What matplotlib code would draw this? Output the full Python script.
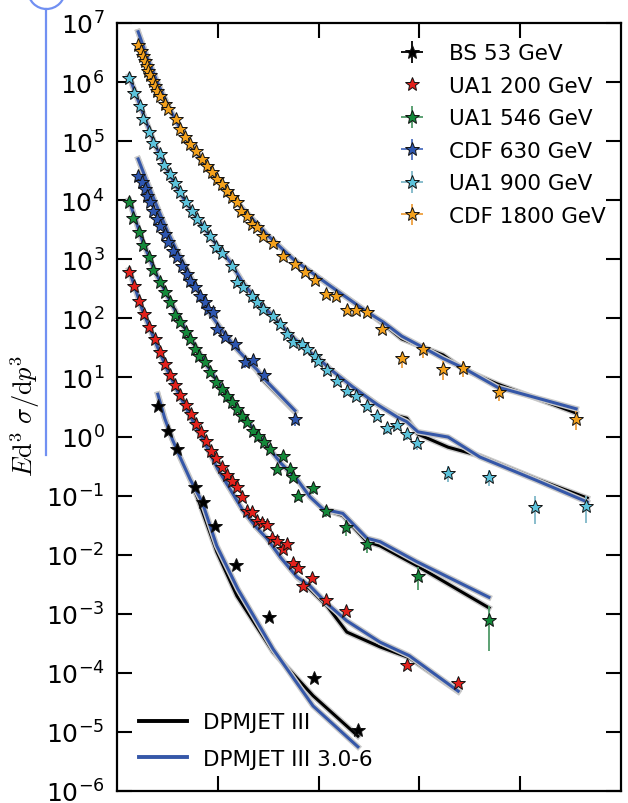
import numpy as np
import matplotlib
matplotlib.use('Agg')
import matplotlib.pyplot as plt
import matplotlib.patheffects as pe
from matplotlib.patches import Ellipse
from matplotlib.lines import Line2D
from matplotlib.ticker import LogLocator, NullLocator

plt.rcParams['font.family'] = ['DejaVu Sans']
plt.rcParams['mathtext.fontset'] = 'cm'

# ---------------- data (pT in GeV, invariant cross section) ----------------
bs53_pt = [0.81, 1.01, 1.19, 1.55, 1.71, 1.94, 2.36, 3.02, 3.91, 4.78]
bs53_val = [3.3, 1.23, 0.62, 0.141, 0.078, 0.031, 6.8e-3, 8.9e-4, 8.1e-5, 1.07e-5]
bs53_err = [0.0] * 10

ua1200_pt = [0.24, 0.34, 0.44, 0.54, 0.64, 0.75, 0.85, 0.95, 1.05, 1.15,
             1.25, 1.37, 1.47, 1.57, 1.67, 1.77, 1.87, 1.96, 2.08, 2.18,
             2.28, 2.38, 2.48, 2.58, 2.68, 2.78, 2.88, 2.98, 3.08, 3.17,
             3.29, 3.37, 3.49, 3.59, 3.69, 3.87, 4.15, 4.54, 5.75, 6.77]
ua1200_val = [620, 355, 195, 117, 71, 45, 27, 17, 11, 7.4,
              5.0, 3.4, 2.4, 1.62, 1.2, 0.83, 0.575, 0.44, 0.30, 0.224,
              0.174, 0.141, 0.095, 0.055, 0.052, 0.037, 0.035, 0.032, 0.019, 0.017,
              0.0126, 0.0151, 7.2e-3, 6.0e-3, 2.95e-3, 4.1e-3, 1.7e-3, 1.12e-3, 1.35e-4, 6.8e-5]

ua1546_pt = [0.24, 0.32, 0.44, 0.52, 0.64, 0.71, 0.85, 0.95, 1.05, 1.15,
             1.25, 1.37, 1.45, 1.55, 1.63, 1.75, 1.85, 1.96, 2.08, 2.18,
             2.28, 2.38, 2.48, 2.58, 2.70, 2.80, 2.92, 3.04, 3.17, 3.29,
             3.43, 3.49, 3.59, 3.89, 4.15, 4.54, 4.96, 5.97, 7.38]
ua1546_val = [9.3e3, 5.0e3, 2.9e3, 1.74e3, 1.1e3, 660, 420, 280, 190, 115,
              87, 59, 45, 30, 23, 18, 12.3, 8.3, 6.5, 4.9,
              3.9, 2.95, 2.24, 1.78, 1.23, 1.02, 0.81, 0.62, 0.28, 0.47,
              0.28, 0.21, 0.10, 0.135, 0.055, 0.030, 0.015, 4.4e-3, 7.9e-4]
ua1546_err = [0.0] * 28 + [0.15, 0.10, 0.15, 0.15, 0.20, 0.20, 0.20, 0.30, 0.30, 0.42, 0.70]

cdf630_pt = [0.42, 0.50, 0.56, 0.60, 0.65, 0.72, 0.79, 0.85, 0.95, 1.01,
             1.11, 1.19, 1.29, 1.39, 1.45, 1.55, 1.65, 1.75, 1.81, 1.90,
             1.98, 2.14, 2.34, 2.54, 2.70, 2.92, 3.53]
cdf630_val = [2.57e4, 2.04e4, 1.55e4, 1.17e4, 9.3e3, 6.6e3, 4.8e3, 3.6e3, 2.7e3, 1.95e3,
              1.38e3, 1.1e3, 780, 560, 430, 340, 240, 190, 145, 129,
              66, 49, 37, 18, 20, 11, 2.0]
cdf630_err = [0.0] * 20 + [0.15, 0.15, 0.15, 0.20, 0.20, 0.20, 0.25]

ua1900_pt = [0.24, 0.34, 0.46, 0.52, 0.64, 0.72, 0.85, 0.93, 1.05, 1.15,
             1.25, 1.37, 1.49, 1.59, 1.73, 1.85, 1.96, 2.08, 2.28, 2.38,
             2.50, 2.68, 2.78, 2.90, 3.10, 3.23, 3.37, 3.49, 3.67, 3.77,
             3.93, 3.99, 4.17, 4.37, 4.56, 4.74, 4.96, 5.16, 5.36, 5.56,
             5.75, 5.95, 6.57, 7.38, 8.29, 9.31]
ua1900_val = [1.15e6, 6.6e5, 4.0e5, 2.4e5, 1.45e5, 9.3e4, 6.0e4, 4.0e4, 2.75e4, 1.95e4,
              1.38e4, 9.3e3, 6.6e3, 4.8e3, 3.5e3, 2.5e3, 1.6e3, 1.3e3, 780, 420,
              340, 240, 190, 145, 110, 81, 55, 40, 37, 30,
              23, 19, 13.5, 8.7, 5.9, 4.9, 3.3, 2.2, 1.38, 1.58,
              1.1, 0.78, 0.24, 0.21, 0.065, 0.066]
ua1900_err = [0.0] * 36 + [0.10, 0.15, 0.20, 0.15, 0.20, 0.25, 0.30, 0.30, 0.50, 0.48]

cdf1800_pt = [0.42, 0.47, 0.51, 0.55, 0.59, 0.62, 0.65, 0.71, 0.75, 0.80,
              0.85, 0.95, 1.02, 1.17, 1.25, 1.35, 1.45, 1.57, 1.68, 1.78,
              1.88, 1.98, 2.08, 2.18, 2.28, 2.38, 2.47, 2.57, 2.67, 2.77,
              2.90, 3.10, 3.30, 3.53, 3.73, 3.93, 4.15, 4.35, 4.56, 4.74,
              4.96, 5.26, 5.65, 6.07, 6.47, 6.87, 7.58, 9.11]
cdf1800_val = [4.3e6, 3.4e6, 2.8e6, 2.3e6, 1.9e6, 1.55e6, 1.3e6, 1.05e6, 8.7e5, 7.1e5,
               5.9e5, 4.3e5, 3.5e5, 2.4e5, 1.6e5, 1.17e5, 8.9e4, 6.9e4, 5.0e4, 3.8e4,
               2.95e4, 2.3e4, 1.86e4, 1.45e4, 1.12e4, 9.3e3, 6.6e3, 5.5e3, 4.0e3, 3.5e3,
               2.5e3, 1.9e3, 1.15e3, 830, 620, 450, 260, 240, 140, 140,
               130, 66, 21, 30, 14, 14.5, 5.6, 2.0]
cdf1800_err = [0.0] * 41 + [0.10, 0.30, 0.30, 0.35, 0.30, 0.30, 0.35]

# ---------------- model curves ----------------
bs53_mx_k = [0.81, 0.95, 1.10, 1.25, 1.45, 1.61, 1.98, 2.38, 3.10, 3.89, 4.78]
bs53_my_k = [5.2, 2.0, 0.89, 0.45, 0.19, 0.087, 0.0112, 2.0e-3, 2.24e-4, 4.1e-5, 8.5e-6]
bs53_mx_b = [0.81, 0.95, 1.10, 1.25, 1.45, 1.69, 1.98, 2.40, 3.10, 3.89, 4.78]
bs53_my_b = [5.2, 2.0, 0.89, 0.45, 0.19, 0.078, 0.0141, 2.6e-3, 2.5e-4, 2.75e-5, 5.6e-6]

ua1200_mx = [0.24, 0.5, 0.75, 1.0, 1.25, 1.5, 1.75, 2.0, 2.25, 2.5,
             2.75, 2.98, 3.25, 3.57, 3.83, 4.17, 4.56, 5.22, 5.80, 6.77]
ua1200_my_k = [660, 141, 42, 13.2, 4.8, 1.86, 0.76, 0.28, 0.126, 0.056,
               0.030, 0.0186, 8.9e-3, 4.2e-3, 2.6e-3, 1.35e-3, 4.9e-4, 2.75e-4, 1.8e-4, 4.8e-5]
ua1200_my_b = [660, 141, 42, 13.2, 4.8, 1.86, 0.76, 0.28, 0.126, 0.056,
               0.030, 0.0186, 8.9e-3, 4.2e-3, 2.95e-3, 1.48e-3, 7.6e-4, 3.3e-4, 1.95e-4, 4.9e-5]

ua1546_mx = [0.24, 0.5, 0.75, 1.0, 1.25, 1.5, 1.75, 2.0, 2.25, 2.5, 2.75,
             3.0, 3.25, 3.57, 3.83, 4.09, 4.48, 4.96, 5.22, 5.95, 7.38]
ua1546_my_k = [1.0e4, 2.1e3, 630, 240, 95, 40, 17.8, 8.3, 4.4, 2.3, 1.2,
               0.66, 0.355, 0.19, 0.095, 0.059, 0.046, 0.0166, 0.0141, 6.5e-3, 1.26e-3]
ua1546_my_b = [1.0e4, 2.1e3, 630, 240, 95, 40, 17.8, 8.3, 4.4, 2.3, 1.2,
               0.66, 0.355, 0.19, 0.095, 0.059, 0.050, 0.019, 0.0166, 7.6e-3, 1.9e-3]

cdf630_mx = [0.42, 0.6, 0.8, 1.0, 1.2, 1.4, 1.6, 1.85, 2.1, 2.38, 2.6, 2.78, 2.92, 3.53]
cdf630_my_k = [5.0e4, 2.0e4, 7.6e3, 3.0e3, 1.32e3, 630, 300, 120, 60, 30, 19, 12.9, 8.7, 2.6]
cdf630_my_b = [5.0e4, 2.0e4, 7.6e3, 3.0e3, 1.32e3, 630, 300, 120, 60, 30, 19, 13.5, 9.5, 2.75]

ua1900_mx = [0.24, 0.5, 0.75, 1.0, 1.25, 1.5, 1.75, 2.0, 2.25, 2.5, 2.75, 3.0, 3.25,
             3.5, 3.75, 4.0, 4.23, 4.68, 5.16, 5.56, 5.75, 5.97, 6.57, 7.20, 8.33, 9.33]
ua1900_my_k = [1.26e6, 3.2e5, 8.9e4, 3.2e4, 1.32e4, 6.3e3, 3.2e3, 1.66e3, 890, 400, 214, 132, 79,
               47, 30, 21, 13.8, 6.9, 3.5, 2.24, 2.04, 1.1, 0.66, 0.47, 0.19, 0.091]
ua1900_my_b = [1.26e6, 3.2e5, 8.9e4, 3.2e4, 1.32e4, 6.3e3, 3.2e3, 1.66e3, 890, 400, 214, 132, 79,
               47, 30, 21, 13.8, 6.9, 3.5, 2.14, 1.78, 1.2, 0.98, 0.45, 0.18, 0.078]

cdf1800_mx = [0.42, 0.6, 0.8, 1.0, 1.25, 1.5, 1.75, 2.0, 2.5, 3.0,
              3.5, 4.23, 4.96, 5.28, 5.65, 6.05, 6.47, 6.87, 7.54, 9.11]
cdf1800_my_k = [7.1e6, 2.6e6, 1.0e6, 4.2e5, 1.66e5, 7.9e4, 4.0e4, 2.24e4, 7.1e3, 2.5e3,
                1.0e3, 355, 129, 81, 45, 33, 24, 13.8, 7.8, 2.5]
cdf1800_my_b = [7.1e6, 2.6e6, 1.0e6, 4.2e5, 1.66e5, 7.9e4, 4.0e4, 2.24e4, 7.1e3, 2.5e3,
                1.0e3, 355, 129, 87, 50, 33, 21, 14.5, 6.9, 2.95]

labels = ['BS 53 GeV', 'UA1 200 GeV', 'UA1 546 GeV', 'CDF 630 GeV', 'UA1 900 GeV', 'CDF 1800 GeV']
model_labels = ['DPMJET III', 'DPMJET III 3.0-6']

# ---------------- styling ----------------
colors = ['#000000', '#e3211c', '#14893a', '#2d56b0', '#5cc3dc', '#f4a11c']
ecolors = ['#000000', '#e3211c', '#4f9a68', '#4d6fbf', '#7fb8c8', '#eea040']
model_colors = ['#000000', '#3557a8']

fig = plt.figure(figsize=(6.28, 8.04), dpi=100)
ax = fig.add_axes([117 / 628, 1 - 792 / 804, 504 / 628, 768 / 804])
ax.set_yscale('log')

shadow = [pe.Stroke(linewidth=4.2, foreground='#c9c9c9'), pe.Normal()]

models = [
    (bs53_mx_k, bs53_my_k, bs53_mx_b, bs53_my_b),
    (ua1200_mx, ua1200_my_k, ua1200_mx, ua1200_my_b),
    (ua1546_mx, ua1546_my_k, ua1546_mx, ua1546_my_b),
    (cdf630_mx, cdf630_my_k, cdf630_mx, cdf630_my_b),
    (ua1900_mx, ua1900_my_k, ua1900_mx, ua1900_my_b),
    (cdf1800_mx, cdf1800_my_k, cdf1800_mx, cdf1800_my_b),
]
for xk, yk, xb, yb in models:
    ax.plot(xk, yk, color=model_colors[0], lw=2.2, zorder=2, path_effects=shadow)
    ax.plot(xb, yb, color=model_colors[1], lw=2.2, zorder=2.1, path_effects=shadow)

datasets = [
    (bs53_pt, bs53_val, bs53_err),
    (ua1200_pt, ua1200_val, None),
    (ua1546_pt, ua1546_val, ua1546_err),
    (cdf630_pt, cdf630_val, cdf630_err),
    (ua1900_pt, ua1900_val, ua1900_err),
    (cdf1800_pt, cdf1800_val, cdf1800_err),
]
handles = []
for (pt, val, err), lab, c, ec in zip(datasets, labels, colors, ecolors):
    pt = np.array(pt)
    val = np.array(val)
    if err is None:
        h = ax.errorbar(pt, val, fmt='*', ms=10, mfc=c, mec='#111111', mew=0.7,
                        label=lab, zorder=3)
    else:
        yerr = np.array(err) * val
        h = ax.errorbar(pt, val, yerr=yerr, xerr=np.zeros_like(pt), fmt='*', ms=10,
                        mfc=c, mec='#111111', mew=0.7, ecolor=ec, elinewidth=1.3,
                        capsize=0, label=lab, zorder=3)
    handles.append(h)

ax.set_xlim(0, 10)
ax.set_ylim(1e-6, 1e7)
ax.set_xticks([2, 4, 6, 8])
ax.set_xticklabels([])
ax.yaxis.set_major_locator(LogLocator(base=10, numticks=20))
ax.yaxis.set_minor_locator(NullLocator())
ax.xaxis.set_minor_locator(NullLocator())
ax.tick_params(which='major', direction='in', length=11, width=1.5,
               top=True, right=True, labelsize=18, pad=9)
for s in ax.spines.values():
    s.set_linewidth(1.6)

ax.set_ylabel(r'$E\mathrm{d}^3\ \sigma/\mathrm{d}p^3$', fontsize=19)
ax.yaxis.set_label_coords(-0.149, 0.49)

leg1 = ax.legend(handles=handles, labels=labels, loc='upper right',
                 bbox_to_anchor=(1.0, 0.993), frameon=False, fontsize=15.5,
                 labelspacing=0.58, handletextpad=0.92, handlelength=1.6,
                 borderaxespad=0.3)
ax.add_artist(leg1)

mh = [Line2D([], [], color=model_colors[0], lw=2.8),
      Line2D([], [], color=model_colors[1], lw=2.8)]
ax.legend(handles=mh, labels=model_labels, loc='lower left', frameon=False,
          fontsize=15.5, labelspacing=0.77, handlelength=2.23, handletextpad=0.74,
          borderaxespad=0.63)

# annotation marks at the left edge of the picture
fig.add_artist(Line2D([46 / 628, 46 / 628], [1 - 456 / 804, 1 - 10 / 804],
                      transform=fig.transFigure, color='#7190f2', lw=1.6))
fig.add_artist(Ellipse((46.5 / 628, 1 + 8.5 / 804), 37 / 628, 37 / 804,
                       transform=fig.transFigure, fill=False,
                       edgecolor='#7190f2', lw=1.6, clip_on=False))

fig.savefig('out.png', dpi=100)
